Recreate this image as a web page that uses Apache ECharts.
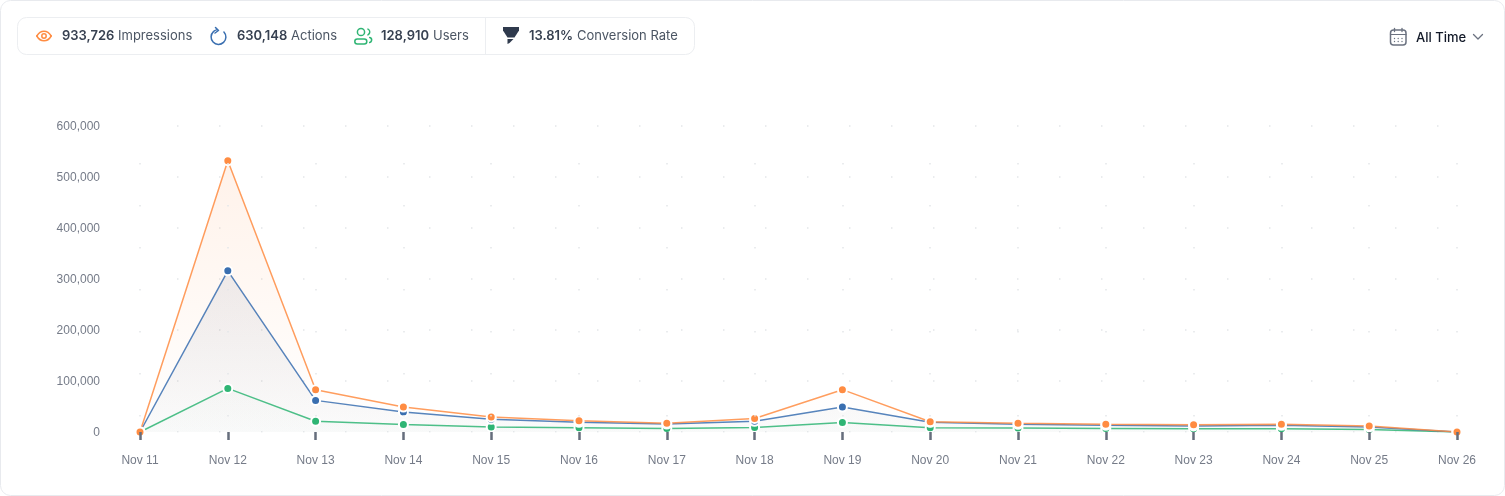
<!DOCTYPE html>
<html><head><meta charset="utf-8">
<style>html,body{margin:0;padding:0;background:#fff}#c{width:1505px;height:496px}</style>
<script src="https://cdn.jsdelivr.net/npm/echarts@6/dist/echarts.min.js"></script>
</head><body><div id="c"></div>
<script>
const categories=['Nov 11','Nov 12','Nov 13','Nov 14','Nov 15','Nov 16','Nov 17','Nov 18','Nov 19','Nov 20','Nov 21','Nov 22','Nov 23','Nov 24','Nov 25','Nov 26'];
const impressions=[0,532000,83000,49000,29500,22000,17000,26500,83000,20000,17000,15000,14000,15000,12000,0];
const actions=[0,316000,62000,39000,25000,19000,15500,21000,49000,19000,15000,13000,12000,13000,10000,0];
const users=[0,85500,21000,14500,10000,8500,7000,9000,18500,8500,8000,7000,6500,6500,5000,0];
const yTicks={min:0,max:600000,interval:100000};
const statTexts=[['933,726',62,true],['Impressions',118,false],['630,148',237,true],['Actions',291,false],['128,910',381,true],['Users',433,false],['13.81%',529,true],['Conversion Rate',577,false]];
const ORANGE='#ff8c42',BLUE='#3a6fb0',GREEN='#2fb574';
const UI='Inter, "Noto Sans", sans-serif';
const AXISFONT='"Liberation Sans", Arial, sans-serif';

function line(name,data,color,top,bottom){
  return {name,type:'line',data,smooth:false,symbol:'circle',symbolSize:9,showSymbol:true,
    lineStyle:{color,width:1.5,opacity:0.85},
    itemStyle:{color,borderColor:'#fff',borderWidth:2},
    emphasis:{disabled:true},
    areaStyle:{color:{type:'linear',x:0,y:0,x2:0,y2:1,colorStops:[{offset:0,color:top},{offset:1,color:bottom}]}}};
}
const stroke=(c,w)=>({stroke:c,lineWidth:w,fill:'none',lineCap:'round',lineJoin:'round'});
const g=[];
g.push({type:'rect',z:0,shape:{x:0.5,y:0.5,width:1504,height:495,r:10},style:{fill:'#fff',stroke:'#e8eaee',lineWidth:1}});
g.push({type:'rect',z:0,shape:{x:17.5,y:17.5,width:677,height:37,r:9},style:{fill:'#fff',stroke:'#eceef1',lineWidth:1}});
g.push({type:'line',z:0,shape:{x1:485.5,y1:18,x2:485.5,y2:54},style:{stroke:'#eceef1',lineWidth:1}});
statTexts.forEach(([t,x,b])=>g.push({type:'text',z:1,style:{text:t,x,y:36.5,fill:b?'#374151':'#4b5563',font:(b?'600':'400')+' 13px '+UI,verticalAlign:'middle'}}));
g.push({type:'text',z:1,style:{text:'All Time',x:1416,y:38,fill:'#111827',font:'500 13px '+UI,verticalAlign:'middle'}});
// eye
g.push({type:'bezierCurve',shape:{x1:36.8,y1:36,x2:51.2,y2:36,cpx1:40.5,cpy1:29.6,cpx2:47.5,cpy2:29.6},style:stroke(ORANGE,1.5)});
g.push({type:'bezierCurve',shape:{x1:36.8,y1:36,x2:51.2,y2:36,cpx1:40.5,cpy1:42.4,cpx2:47.5,cpy2:42.4},style:stroke(ORANGE,1.5)});
g.push({type:'circle',shape:{cx:44,cy:36,r:2.2},style:stroke(ORANGE,1.5)});
// refresh
g.push({type:'arc',shape:{cx:218.5,cy:37,r:7.4,startAngle:-0.75,endAngle:-1.85,clockwise:true},style:stroke(BLUE,1.5)});
g.push({type:'polyline',shape:{points:[[215.5,27.5],[218.5,30.5],[215,33]]},style:stroke(BLUE,1.5)});
// users
g.push({type:'circle',shape:{cx:361,cy:32,r:3.6},style:stroke(GREEN,1.5)});
g.push({type:'arc',shape:{cx:366.5,cy:32,r:3.2,startAngle:-1.1,endAngle:1.1,clockwise:true},style:stroke(GREEN,1.5)});
g.push({type:'rect',shape:{x:354.8,y:39,width:12,height:5,r:2.5},style:stroke(GREEN,1.5)});
g.push({type:'arc',shape:{cx:369,cy:40,r:2.6,startAngle:-1.3,endAngle:1.3,clockwise:true},style:stroke(GREEN,1.5)});
// funnel
const DARK='#2f3a4d';
g.push({type:'polygon',shape:{points:[[503,27],[519,27],[519,30.5],[514.5,37.5],[507.5,37.5],[503,30.5]]},style:{fill:DARK}});
g.push({type:'polygon',shape:{points:[[507.5,39],[513.5,39],[509.5,43],[507.5,44]]},style:{fill:DARK}});
// calendar
const CAL='#6b7280';
g.push({type:'rect',shape:{x:1390.5,y:30,width:15.5,height:15,r:3},style:stroke(CAL,1.5)});
g.push({type:'line',shape:{x1:1390.5,y1:34.5,x2:1406,y2:34.5},style:stroke(CAL,1.2)});
[1394.5,1402].forEach(x=>g.push({type:'line',shape:{x1:x,y1:28.5,x2:x,y2:31.5},style:stroke(CAL,1.3)}));
[[1394.5,38.5],[1398.2,38.5],[1402,38.5],[1394.5,41.5],[1398.2,41.5],[1402,41.5]].forEach(([cx,cy])=>g.push({type:'circle',shape:{cx,cy,r:0.7},style:{fill:CAL}}));
// chevron
g.push({type:'polyline',shape:{points:[[1473.5,34.5],[1478,39],[1482.5,34.5]]},style:stroke('#6b7280',1.3)});
// clip marks at the baseline
g.push({type:'rect',z:3,shape:{x:125,y:432.5,width:1345,height:10},style:{fill:'#fff'}});

const chart=echarts.init(document.getElementById('c'),null,{renderer:'canvas'});
chart.setOption({
  animation:false,backgroundColor:'transparent',
  grid:{left:140,right:48,top:126,bottom:64,containLabel:false},
  graphic:{elements:g},
  tooltip:{show:false},
  xAxis:{type:'category',data:categories,boundaryGap:false,z:4,
    axisLine:{show:false},
    axisTick:{show:true,alignWithLabel:true,length:8,lineStyle:{color:'#666e7c',width:2.5}},
    axisLabel:{color:'#757b88',fontSize:12,margin:23,fontFamily:AXISFONT,interval:0},
    splitLine:{show:true,lineStyle:{color:'#e4e6e9',width:1.5,type:[1.5,40.5],dashOffset:5}}},
  yAxis:{type:'value',...yTicks,
    axisLine:{show:false},axisTick:{show:false},
    axisLabel:{color:'#757b88',fontSize:12,margin:40,fontFamily:AXISFONT,verticalAlign:'top',lineHeight:12,padding:[-5,0,0,0],formatter:v=>v.toLocaleString('en-US')},
    splitLine:{show:true,lineStyle:{color:'#e4e6e9',width:1.5,type:[1.5,40.5],dashOffset:5}}},
  series:[
    line('Users',users,GREEN,'rgba(80,140,90,0.02)','rgba(80,140,90,0.02)'),
    line('Actions',actions,BLUE,'rgba(58,80,130,0.13)','rgba(60,70,90,0.03)'),
    line('Impressions',impressions,ORANGE,'rgba(255,140,66,0.16)','rgba(255,140,66,0)')
  ]
});
</script></body></html>
